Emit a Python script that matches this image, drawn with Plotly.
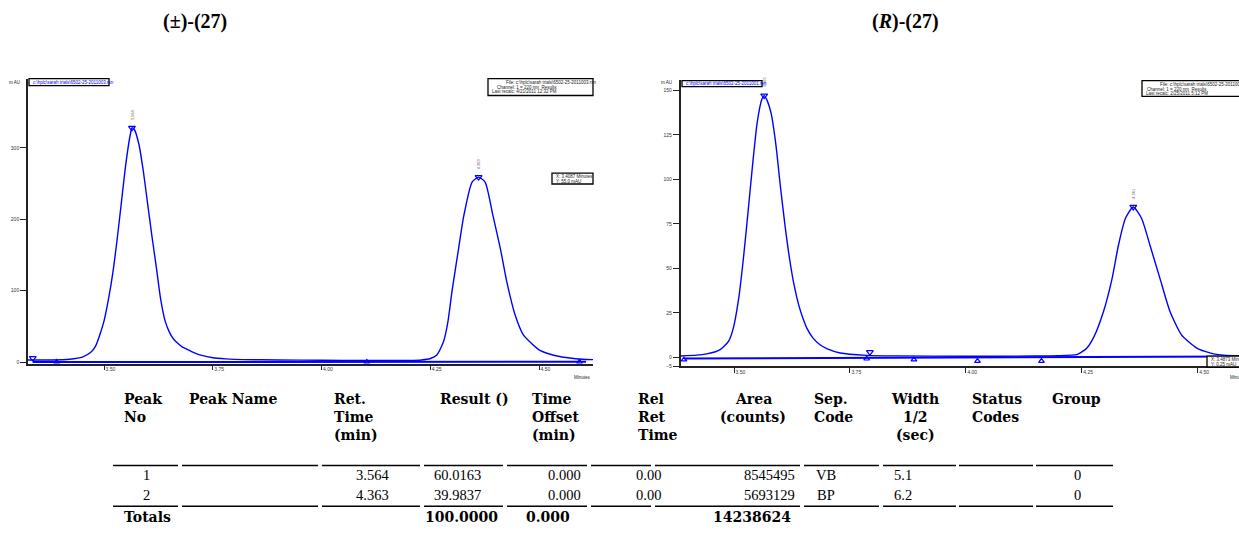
import plotly.graph_objects as go

W, H = 1239, 552

# ---------------- data: left chromatogram (racemic) ----------------
left_t = [3.325, 3.38, 3.42, 3.45, 3.47, 3.48, 3.49, 3.50, 3.51, 3.52, 3.53, 3.54, 3.55, 3.56, 3.564,
          3.57, 3.58, 3.59, 3.60, 3.61, 3.62, 3.63, 3.64, 3.65, 3.66, 3.67, 3.68, 3.69, 3.70, 3.72,
          3.75, 3.78, 3.82, 3.90, 4.00, 4.10, 4.20, 4.23, 4.25, 4.265, 4.28, 4.29, 4.30, 4.315, 4.327,
          4.346, 4.361, 4.376, 4.394, 4.411, 4.426, 4.445, 4.464, 4.50, 4.52, 4.55, 4.58, 4.60, 4.624]
left_y = [3, 3, 4, 7, 14, 22, 38, 58, 88, 125, 172, 225, 278, 318, 328,
          325, 305, 268, 222, 176, 133, 88, 58, 42, 32, 26, 21, 18, 15, 10,
          6, 4.5, 3.5, 3, 2.5, 2.3, 2.3, 3, 5, 10, 28, 55, 100, 159, 205,
          252, 259, 252, 205, 159, 112, 66, 38, 17, 12, 7.5, 5, 4, 3.5]
left_peak_t = [3.564, 4.361]
left_peak_y = [328, 259]
left_peak_lbl = ["3.564", "4.363"]
left_base_t = [3.336, 4.608]
left_base_y = [0.0, 0.5]
left_evt_down_t = [3.336]
left_evt_down_y = [5.6]
left_evt_up_t = [3.391, 4.104, 4.593]
left_evt_up_y = [0.0, 0.0, 0.0]

# ---------------- data: right chromatogram (R) ----------------
right_t = [3.385, 3.42, 3.441, 3.46, 3.47, 3.488, 3.4985, 3.51, 3.52, 3.53, 3.54, 3.55, 3.56, 3.565,
           3.57, 3.58, 3.59, 3.60, 3.61, 3.62, 3.63, 3.64, 3.65, 3.657, 3.67, 3.686, 3.70, 3.729,
           3.786, 3.85, 4.00, 4.15, 4.20, 4.239, 4.246, 4.26, 4.275, 4.297, 4.315, 4.329, 4.344,
           4.361, 4.379, 4.397, 4.419, 4.44, 4.465, 4.498, 4.534, 4.576, 4.589]
right_y = [0.8, 1.3, 2, 3.2, 4.4, 9, 16.5, 33, 55, 81, 108, 132, 145, 147,
           145, 137, 120, 96, 74, 55, 40, 29, 21, 16.5, 11, 7, 5, 2.5,
           1.2, 0.9, 0.7, 0.8, 1, 1.6, 2.5, 5, 11, 26, 44, 63, 78,
           84.5, 78, 63, 44, 26, 12.7, 5.3, 2, 1, 1]
right_peak_t = [3.565, 4.361]
right_peak_y = [147, 84.5]
right_peak_lbl = ["3.565", "4.361"]
right_base_t = [3.392, 4.589]
right_base_y = [-0.6, 0.6]
right_evt_down_t = [3.793]
right_evt_down_y = [3.0]
right_evt_up_t = [3.392, 3.786, 3.888, 4.025, 4.163]
right_evt_up_y = [-1.2, -0.7, -1.2, -2.0, -2.0]

left_yticks = [0, 100, 200, 300]
right_yticks = [-5, 0, 25, 50, 75, 100, 125, 150]
x_ticks = [3.50, 3.75, 4.00, 4.25, 4.50]
x_ticklabels = ["3.50", "3.75", "4.00", "4.25", "4.50"]

# ---------------- table data ----------------
table_header = [["Peak", "No"], ["Peak Name"], ["Ret.", "Time", "(min)"], ["Result ()"],
                ["Time", "Offset", "(min)"], ["Rel", "Ret", "Time"], ["Area", "(counts)"],
                ["Sep.", "Code"], ["Width", "1/2", "(sec)"], ["Status", "Codes"], ["Group"]]
peak_no = ["1", "2"]
peak_name = ["", ""]
ret_time = ["3.564", "4.363"]
result = ["60.0163", "39.9837"]
time_offset = ["0.000", "0.000"]
rel_ret = ["0.00", "0.00"]
area = ["8545495", "5693129"]
sep_code = ["VB", "BP"]
width_half = ["5.1", "6.2"]
status_codes = ["", ""]
group = ["0", "0"]
totals = ["Totals", "", "", "100.0000", "0.000", "", "14238624", "", "", "", ""]

BLUE = "#0000ff"

def px(x):
    return x / W

def py(y):
    return 1 - y / H

fig = go.Figure()

def add_chrom(t, y, pt, pyv, bt, byv, edt, edy, eut, euy, xa, ya):
    fig.add_trace(go.Scatter(x=bt, y=byv, mode="lines", line=dict(color=BLUE, width=2),
                             xaxis=xa, yaxis=ya, hoverinfo="skip"))
    fig.add_trace(go.Scatter(x=t, y=y, mode="lines", line=dict(color=BLUE, width=1.4, shape="spline", smoothing=0.6),
                             xaxis=xa, yaxis=ya))
    fig.add_trace(go.Scatter(x=pt, y=pyv, mode="markers",
                             marker=dict(symbol="triangle-down-open", size=6, color=BLUE, line=dict(width=1.2)),
                             xaxis=xa, yaxis=ya))
    fig.add_trace(go.Scatter(x=edt, y=edy, mode="markers",
                             marker=dict(symbol="triangle-down-open", size=6, color=BLUE, line=dict(width=1.2)),
                             xaxis=xa, yaxis=ya))
    fig.add_trace(go.Scatter(x=eut, y=euy, mode="markers",
                             marker=dict(symbol="triangle-up-open", size=5, color=BLUE, line=dict(width=1.2)),
                             xaxis=xa, yaxis=ya))

add_chrom(left_t, left_y, left_peak_t, left_peak_y, left_base_t, left_base_y,
          left_evt_down_t, left_evt_down_y, left_evt_up_t, left_evt_up_y, "x", "y")
add_chrom(right_t, right_y, right_peak_t, right_peak_y, right_base_t, right_base_y,
          right_evt_down_t, right_evt_down_y, right_evt_up_t, right_evt_up_y, "x2", "y2")

tickfont = dict(family="Liberation Sans", size=5, color="#333333")
axis_common = dict(showline=True, linecolor="#222222", linewidth=1.6, ticks="outside",
                   tickwidth=1.4, tickcolor="#222222", showgrid=False, zeroline=False, tickfont=tickfont)

fig.update_layout(
    width=W, height=H, margin=dict(l=0, r=0, t=0, b=0),
    paper_bgcolor="white", plot_bgcolor="white", showlegend=False,
    xaxis=dict(domain=[px(28), px(593)], range=[3.325, 4.624], anchor="y",
               tickvals=x_ticks, ticktext=x_ticklabels, ticklen=5,
               ticklabelposition="outside right", **axis_common),
    yaxis=dict(domain=[py(365.5), py(79)], range=[-2, 397], anchor="x",
               tickvals=left_yticks, ticklen=6, **axis_common),
    xaxis2=dict(domain=[px(680.7), 1.0], range=[3.385, 4.589], anchor="y2",
                tickvals=x_ticks, ticktext=x_ticklabels, ticklen=5,
                ticklabelposition="outside right", **axis_common),
    yaxis2=dict(domain=[py(368.4), py(80)], range=[-5, 156], anchor="x2",
                tickvals=right_yticks, ticklen=6, **axis_common),
)

ann = []
shapes = []

# titles
titlefont = dict(family="Liberation Serif", size=20, color="black")
ann.append(dict(x=px(195), y=py(22), xref="paper", yref="paper", text="<b>(±)-(27)</b>",
                showarrow=False, font=titlefont, xanchor="center", yanchor="middle"))
ann.append(dict(x=px(905), y=py(22), xref="paper", yref="paper", text="<b>(<i>R</i>)-(27)</b>",
                showarrow=False, font=titlefont, xanchor="center", yanchor="middle"))

small = dict(family="Liberation Sans", size=4.5, color="#222222")

# axis unit labels
ann.append(dict(x=px(22), y=py(83), xref="paper", yref="paper", text="m AU", showarrow=False,
                font=small, xanchor="right", yanchor="middle"))
ann.append(dict(x=px(674), y=py(83), xref="paper", yref="paper", text="m AU", showarrow=False,
                font=small, xanchor="right", yanchor="middle"))
ann.append(dict(x=px(582), y=py(380), xref="paper", yref="paper", text="Minutes", showarrow=False,
                font=small, xanchor="center", yanchor="middle"))
ann.append(dict(x=px(1228), y=py(380), xref="paper", yref="paper", text="Minutes", showarrow=False,
                font=small, xanchor="left", yanchor="middle"))

# peak labels (vertical)
for xa, ya, pts, pys, lbls in [("x", "y", left_peak_t, left_peak_y, left_peak_lbl),
                               ("x2", "y2", right_peak_t, right_peak_y, right_peak_lbl)]:
    for t, v, l in zip(pts, pys, lbls):
        ann.append(dict(x=t, y=v, xref=xa, yref=ya, text=l, textangle=-90, showarrow=False,
                        font=dict(family="Liberation Sans", size=4, color="#555555"),
                        yshift=6, xanchor="center", yanchor="bottom"))

# info boxes
def box(x0, y0, x1, y1):
    shapes.append(dict(type="rect", xref="paper", yref="paper", x0=px(x0), x1=px(x1),
                       y0=py(y1), y1=py(y0), line=dict(color="black", width=1.3),
                       fillcolor="white", layer="above"))

def txt(x, y, s, color="#222222", anchor="left"):
    ann.append(dict(x=px(x), y=py(y), xref="paper", yref="paper", text=s, showarrow=False,
                    font=dict(family="Liberation Sans", size=4.5, color=color),
                    xanchor=anchor, yanchor="middle"))

box(29, 79, 109, 86)
txt(31, 82.5, "c:\\hplc\\sarah trials\\6502-25-2011003.rsn", BLUE)
box(488, 79, 593, 96)
txt(504, 82.5, "File: c:\\hplc\\sarah trials\\6502-25-2011003.rsn")
txt(495, 87.5, "Channel: 1 = 220 nm  Results")
txt(490, 92.5, "Last recalc: 4/21/2011 12:32 PM")
box(552, 174, 593, 185)
txt(554, 177, "X: 3.4087 Minutes")
txt(554, 182, "Y: 55.0 mAU")

box(682, 81, 762, 87)
txt(684, 84, "c:\\hplc\\sarah trials\\6502-25-2011001.rsn", BLUE)
box(1142, 81, 1250, 97)
txt(1158, 84.5, "File: c:\\hplc\\sarah trials\\6502-25-2011001.rsn")
txt(1145, 89.5, "Channel: 1 = 220 nm  Results")
txt(1144, 94, "Last recalc: 2/25/2011 5:12 PM")
box(1207, 358, 1250, 369)
txt(1209, 361, "X: 3.4873 Minutes")
txt(1209, 366, "Y: 0.25 mAU")

# ---------------- table ----------------
hfont = dict(family="DejaVu Serif", size=14, color="black")
dfont = dict(family="Liberation Serif", size=14.5, color="black")
# (header x, header anchor, data x, data anchor, totals x, totals anchor)
col_style = [(122, "left", 146, "center", 122, "left"),
             (187, "left", 230, "center", 230, "center"),
             (332, "left", 391, "right", 391, "right"),
             (438, "left", 483, "right", 500, "right"),
             (530, "left", 583, "right", 572, "right"),
             (636, "left", 663, "right", 663, "right"),
             (753, "center", 797, "right", 793, "right"),
             (812, "left", 826, "center", 826, "center"),
             (915, "center", 914, "right", 914, "right"),
             (970, "left", 995, "center", 995, "center"),
             (1050, "left", 1077, "center", 1077, "center")]
header_y = [401, 419, 437]
row_y = [478, 498]
totals_y = 520
columns = [peak_no, peak_name, ret_time, result, time_offset, rel_ret, area, sep_code,
           width_half, status_codes, group]

for (hx, ha, dx, da, tx, ta), hdr, vals, tot in zip(col_style, table_header, columns, totals):
    for line, yy in zip(hdr, header_y):
        ann.append(dict(x=px(hx), y=py(yy), xref="paper", yref="paper", text="<b>%s</b>" % line,
                        showarrow=False, font=hfont, xanchor=ha, yanchor="middle"))
    for v, yy in zip(vals, row_y):
        if v:
            ann.append(dict(x=px(dx), y=py(yy), xref="paper", yref="paper", text=v,
                            showarrow=False, font=dfont, xanchor=da, yanchor="middle"))
    if tot:
        ann.append(dict(x=px(tx), y=py(totals_y), xref="paper", yref="paper", text="<b>%s</b>" % tot,
                        showarrow=False, font=hfont, xanchor=ta, yanchor="middle"))

segments = [(113, 178), (182, 318), (322, 420), (424, 503), (507, 587), (591, 651),
            (655, 800), (804, 879), (883, 956), (959, 1033), (1036, 1113)]
for ly in [468, 509]:
    for a, b in segments:
        shapes.append(dict(type="line", xref="paper", yref="paper", x0=px(a), x1=px(b),
                           y0=py(ly), y1=py(ly), line=dict(color="black", width=1.5)))

fig.update_layout(annotations=ann, shapes=shapes)
fig.write_html("out.html")
